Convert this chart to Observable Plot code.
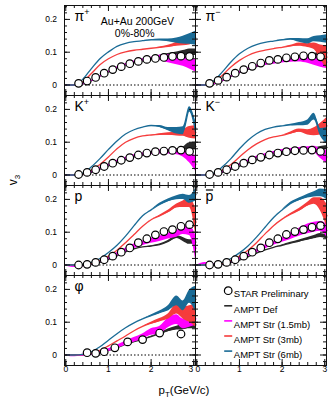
<!DOCTYPE html>
<html><head><meta charset="utf-8">
<script src="https://cdn.jsdelivr.net/npm/d3@7"></script>
<script src="https://cdn.jsdelivr.net/npm/@observablehq/plot@0.6"></script>
<style>body{margin:0;background:#fff;} #chart{width:332px;height:406px;}</style>
</head><body><div id="chart"></div>
<script>
// ---------- data ----------
const pT = [0,0.2,0.4,0.6,0.8,1.0,1.2,1.4,1.6,1.8,2.0,2.2,2.4,2.6,2.75,2.9,3.05];
const starPt = [0.3,0.5,0.7,0.9,1.1,1.3,1.5,1.7,1.9,2.1,2.3,2.5,2.7,2.9];
const phiStarPt = [0.5,0.7,0.9,1.15,1.45,1.8,2.2,2.7];

const pipStar = [0.005,0.012,0.023,0.036,0.047,0.056,0.065,0.072,0.078,0.081,0.084,0.087,0.088,0.087];
const pimStar = [0.005,0.014,0.024,0.036,0.047,0.057,0.067,0.075,0.078,0.083,0.086,0.089,0.088,0.086];
const kpStar  = [0.0015,0.008,0.016,0.026,0.036,0.045,0.053,0.061,0.067,0.071,0.073,0.075,0.076,0.072];
const kmStar  = [0.0015,0.008,0.016,0.026,0.036,0.046,0.054,0.061,0.067,0.071,0.074,0.075,0.076,0.072];
const pStar   = [0,0.002,0.008,0.016,0.027,0.039,0.052,0.068,0.08,0.092,0.102,0.108,0.118,0.123];
const pbarStar= [0,0.002,0.008,0.016,0.027,0.039,0.052,0.068,0.08,0.093,0.102,0.108,0.115,0.12];
const phiStar = [0.007,0.005,0.01,0.022,0.04,0.047,0.067,0.064];

// model bands: centre and half-width on the pT grid
const pipDef  = [0,0,0.003,0.013,0.027,0.04,0.052,0.061,0.068,0.074,0.079,0.088,0.092,0.095,0.097,0.1,0.1];
const pipDefW = [0,0,0,0,0,0,0,0,0,0,0.001,0.003,0.004,0.006,0.008,0.01,0.01];
const pipS15  = [0,0,0.004,0.014,0.028,0.042,0.054,0.063,0.07,0.076,0.08,0.083,0.08,0.077,0.073,0.066,0.058];
const pipS15W = [0,0,0,0,0,0,0.001,0.002,0.003,0.004,0.005,0.008,0.012,0.015,0.016,0.017,0.018];
const pipS3   = [0,0,0.01,0.035,0.062,0.08,0.093,0.101,0.106,0.109,0.112,0.115,0.118,0.124,0.13,0.134,0.138];
const pipS3W  = [0,0,0,0,0,0,0,0,0,0,0,0.001,0.003,0.006,0.01,0.012,0.01];
const pipS6   = [0,0,0.018,0.05,0.08,0.101,0.118,0.127,0.132,0.135,0.138,0.138,0.136,0.135,0.137,0.14,0.143];
const pipS6W  = [0,0,0,0,0,0,0,0,0,0,0,0.002,0.004,0.008,0.012,0.016,0.022];

const pimDef  = [0,0,0.003,0.013,0.026,0.038,0.048,0.056,0.063,0.068,0.073,0.078,0.083,0.088,0.092,0.096,0.098];
const pimDefW = [0,0,0,0,0,0,0,0,0,0,0,0.001,0.002,0.003,0.004,0.005,0.006];
const pimS15  = [0,0,0.004,0.014,0.028,0.04,0.05,0.058,0.064,0.068,0.072,0.075,0.078,0.078,0.075,0.072,0.07];
const pimS15W = [0,0,0,0,0,0.001,0.002,0.003,0.003,0.004,0.005,0.006,0.008,0.012,0.015,0.018,0.02];
const pimS3   = [0,0,0.008,0.03,0.055,0.075,0.09,0.1,0.106,0.111,0.115,0.119,0.123,0.12,0.118,0.1,0.085];
const pimS3W  = [0,0,0,0,0,0,0,0,0,0,0,0.002,0.005,0.006,0.01,0.022,0.035];
const pimS6   = [0,0,0.013,0.04,0.07,0.095,0.112,0.123,0.13,0.134,0.138,0.14,0.136,0.133,0.14,0.14,0.14];
const pimS6W  = [0,0,0,0,0,0,0,0,0,0,0,0.002,0.006,0.008,0.008,0.01,0.013];

const kpDef   = [0,0,0.001,0.008,0.018,0.028,0.038,0.047,0.055,0.061,0.066,0.07,0.073,0.077,0.08,0.088,0.087];
const kpDefW  = [0,0,0,0,0,0,0,0,0,0,0,0.001,0.002,0.003,0.005,0.01,0.01];
const kpS15   = [0,0,0.002,0.01,0.02,0.031,0.042,0.051,0.058,0.063,0.067,0.07,0.071,0.07,0.065,0.055,0.032];
const kpS15W  = [0,0,0,0.001,0.002,0.002,0.003,0.003,0.004,0.004,0.005,0.006,0.007,0.008,0.01,0.018,0.022];
const kpS3    = [0,0,0.003,0.015,0.032,0.055,0.08,0.1,0.112,0.119,0.122,0.124,0.125,0.125,0.128,0.13,0.13];
const kpS3W   = [0,0,0,0,0,0,0,0,0,0,0,0.002,0.004,0.006,0.01,0.018,0.02];
const kpS6    = [0,0,0.006,0.025,0.05,0.078,0.104,0.125,0.138,0.146,0.151,0.148,0.14,0.135,0.135,0.2,0.14];
const kpS6W   = [0,0,0,0,0,0,0,0,0,0,0,0.003,0.005,0.01,0.012,0.008,0.02];

const kmDef   = [0,0,0.001,0.008,0.017,0.027,0.037,0.046,0.053,0.059,0.064,0.068,0.072,0.076,0.079,0.082,0.084];
const kmDefW  = [0,0,0,0,0,0,0,0,0,0,0,0.001,0.002,0.003,0.004,0.005,0.006];
const kmS15   = [0,0,0.002,0.01,0.02,0.032,0.043,0.053,0.061,0.067,0.072,0.075,0.077,0.078,0.078,0.065,0.055];
const kmS15W  = [0,0,0,0.001,0.002,0.002,0.003,0.004,0.004,0.005,0.006,0.006,0.007,0.008,0.01,0.015,0.02];
const kmS3    = [0,0,0.003,0.015,0.032,0.055,0.077,0.095,0.108,0.116,0.121,0.128,0.135,0.13,0.132,0.14,0.15];
const kmS3W   = [0,0,0,0,0,0,0,0,0,0,0,0.003,0.005,0.008,0.012,0.018,0.025];
const kmS6    = [0,0,0.006,0.025,0.05,0.08,0.106,0.126,0.139,0.146,0.15,0.153,0.155,0.16,0.178,0.13,0.12];
const kmS6W   = [0,0,0,0,0,0,0,0,0,0,0,0.002,0.005,0.008,0.01,0.012,0.025];

const pDef    = [0,0,0,0.002,0.008,0.017,0.028,0.04,0.049,0.055,0.058,0.062,0.072,0.085,0.078,0.07,0.07];
const pDefW   = [0,0,0,0,0,0,0,0,0,0,0.001,0.002,0.003,0.004,0.006,0.007,0.007];
const pS15    = [0,-0.004,-0.002,0.004,0.011,0.02,0.032,0.045,0.057,0.066,0.074,0.08,0.088,0.095,0.105,0.105,0.05];
const pS15W   = [0,0.002,0.002,0.002,0.003,0.004,0.005,0.006,0.007,0.007,0.008,0.008,0.009,0.01,0.012,0.015,0.04];
const pS3     = [0,0,0.001,0.005,0.014,0.027,0.045,0.068,0.093,0.118,0.138,0.15,0.163,0.18,0.185,0.19,0.13];
const pS3W    = [0,0,0,0,0,0,0,0,0,0,0,0.002,0.004,0.006,0.01,0.015,0.04];
const pS6     = [0,0,0.002,0.008,0.02,0.038,0.06,0.088,0.12,0.15,0.168,0.185,0.197,0.205,0.208,0.2,0.215];
const pS6W    = [0,0,0,0,0,0,0,0,0,0,0,0.003,0.004,0.006,0.008,0.012,0.02];

const pbarDef  = [0,0,0,0.002,0.007,0.015,0.025,0.036,0.046,0.054,0.06,0.067,0.073,0.08,0.085,0.09,0.085];
const pbarDefW = [0,0,0,0,0,0,0,0,0,0,0.001,0.002,0.003,0.004,0.005,0.006,0.006];
const pbarS15  = [0,0.006,0.002,0.004,0.01,0.019,0.03,0.042,0.055,0.066,0.076,0.088,0.1,0.11,0.115,0.118,0.105];
const pbarS15W = [0,0.002,0.002,0.002,0.003,0.004,0.005,0.005,0.006,0.006,0.007,0.01,0.012,0.015,0.015,0.015,0.02];
const pbarS3   = [0,0,0.001,0.005,0.014,0.027,0.045,0.068,0.095,0.12,0.14,0.155,0.168,0.185,0.195,0.185,0.15];
const pbarS3W  = [0,0,0,0,0,0,0,0,0,0,0,0.002,0.004,0.006,0.01,0.02,0.035];
const pbarS6   = [0,0,0.002,0.008,0.02,0.037,0.058,0.085,0.115,0.145,0.168,0.188,0.2,0.21,0.215,0.22,0.215];
const pbarS6W  = [0,0,0,0,0,0,0,0,0,0,0,0.003,0.004,0.006,0.008,0.012,0.015];

const phiDef   = [0,0,0.001,0.004,0.008,0.014,0.022,0.032,0.041,0.048,0.056,0.065,0.075,0.082,0.085,0.09,0.092];
const phiDefW  = [0,0,0,0,0,0,0,0,0,0,0.001,0.002,0.004,0.006,0.008,0.01,0.012];
const phiS15   = [0,-0.002,0,0.003,0.008,0.015,0.025,0.036,0.046,0.056,0.07,0.075,0.098,0.108,0.095,0.1,0.11];
const phiS15W  = [0,0.002,0.002,0.002,0.003,0.004,0.005,0.006,0.007,0.008,0.01,0.012,0.015,0.015,0.015,0.015,0.02];
const phiS3    = [0,0,0.001,0.005,0.014,0.028,0.043,0.058,0.074,0.087,0.097,0.106,0.117,0.14,0.128,0.125,0.12];
const phiS3W   = [0,0,0,0,0,0,0,0,0,0,0.003,0.005,0.008,0.015,0.018,0.025,0.035];
const phiS6    = [0,0,0.002,0.01,0.025,0.045,0.065,0.083,0.098,0.11,0.12,0.13,0.142,0.165,0.15,0.178,0.17];
const phiS6W   = [0,0,0,0,0,0,0,0,0,0,0.002,0.004,0.008,0.015,0.015,0.02,0.04];

const panelKeys   = ["pip","pim","kp","km","p","pbar","phi"];
const panelLabels = ["π^+","π^−","K^+","K^−","p","p̄","φ"];
const panelCols   = ["L","R","L","R","L","R","L"];
const panelRows   = [0,0,1,1,2,2,3];
const modelNames  = ["AMPT Def","AMPT Str (1.5mb)","AMPT Str (3mb)","AMPT Str (6mb)"];
const modelColors = ["#2a2a2a","#ff00ff","#f53c3c","#1a6b96"];
const legendLabels = ["STAR Preliminary", ...modelNames];
const yMajor = [0, 0.1, 0.2];
const xMajor = [0, 1, 2, 3];

// ---------- tables built from the arrays ----------
const bands = {
  pip:[[pipDef,pipDefW],[pipS15,pipS15W],[pipS3,pipS3W],[pipS6,pipS6W]],
  pim:[[pimDef,pimDefW],[pimS15,pimS15W],[pimS3,pimS3W],[pimS6,pimS6W]],
  kp:[[kpDef,kpDefW],[kpS15,kpS15W],[kpS3,kpS3W],[kpS6,kpS6W]],
  km:[[kmDef,kmDefW],[kmS15,kmS15W],[kmS3,kmS3W],[kmS6,kmS6W]],
  p:[[pDef,pDefW],[pS15,pS15W],[pS3,pS3W],[pS6,pS6W]],
  pbar:[[pbarDef,pbarDefW],[pbarS15,pbarS15W],[pbarS3,pbarS3W],[pbarS6,pbarS6W]],
  phi:[[phiDef,phiDefW],[phiS15,phiS15W],[phiS3,phiS3W],[phiS6,phiS6W]]
};
const stars = {pip:[starPt,pipStar],pim:[starPt,pimStar],kp:[starPt,kpStar],km:[starPt,kmStar],
  p:[starPt,pStar],pbar:[starPt,pbarStar],phi:[phiStarPt,phiStar]};

const panels = panelKeys.map((k,i)=>({key:k,label:panelLabels[i],col:panelCols[i],row:panelRows[i]}));
const modelRows = modelNames.map((m,mi)=>panels.flatMap(P=>pT.map((x,j)=>({
  key:P.key,col:P.col,row:P.row,x,mid:bands[P.key][mi][0][j],hw:bands[P.key][mi][1][j]}))));
const starRows = panels.flatMap(P=>stars[P.key][0].map((x,j)=>({key:P.key,col:P.col,row:P.row,x,v:stars[P.key][1][j]})));
const yLabelRows = [0,1,2,3].flatMap(r=>yMajor.map(v=>({col:"L",row:r,v,t:v===0?"0":String(v)})));
const xLabelRows = ["L","R"].flatMap(c=>xMajor.map(x=>({col:c,row:3,x,t:String(x)})));

const FW = 131.5, FH = 90.5;
const yMinor = d3.range(-2, 25, 2).map(d=>d/100);
const xMinor = d3.range(0, 16, 1).map(d=>d/5);
const font = "'Liberation Sans', Arial, Helvetica, sans-serif";
const fr = {fx:"col", fy:"row"};

const marks = [];
marks.push(Plot.ruleY(panels, {...fr, y:()=>0, stroke:"#000", strokeWidth:1, strokeDasharray:"1.5,2"}));
modelRows.forEach((rows,mi)=>{
  marks.push(Plot.areaY(rows, {...fr, x:"x", y1:d=>d.mid-d.hw, y2:d=>d.mid+d.hw, z:"key", fill:modelColors[mi], curve:"monotone-x"}));
  marks.push(Plot.line(rows, {...fr, x:"x", y:"mid", z:"key", stroke:modelColors[mi], strokeWidth:1.3, curve:"monotone-x"}));
});
marks.push(Plot.dot(starRows, {...fr, x:"x", y:"v", r:3.8, stroke:"#000", strokeWidth:1.2, fill:"#fff"}));
marks.push(Plot.frame({stroke:"#111", strokeWidth:1}));
const tk = {stroke:"#111", strokeWidth:1};
marks.push(Plot.tickY(yMinor,{y:d=>d, insetRight:FW-3.5, ...tk}));
marks.push(Plot.tickY(yMajor,{y:d=>d, insetRight:FW-6.5, ...tk}));
marks.push(Plot.tickY(yMinor,{y:d=>d, insetLeft:FW-3.5, ...tk}));
marks.push(Plot.tickY(yMajor,{y:d=>d, insetLeft:FW-6.5, ...tk}));
marks.push(Plot.tickX(xMinor,{x:d=>d, insetTop:FH-3.5, ...tk}));
marks.push(Plot.tickX(xMajor,{x:d=>d, insetTop:FH-6.5, ...tk}));
marks.push(Plot.tickX(xMinor,{x:d=>d, insetBottom:FH-3.5, ...tk}));
marks.push(Plot.tickX(xMajor,{x:d=>d, insetBottom:FH-6.5, ...tk}));
marks.push(Plot.text(yLabelRows,{...fr, y:"v", text:"t", frameAnchor:"left", dx:-7.5, textAnchor:"end", fontSize:8.5}));
marks.push(Plot.text(xLabelRows.filter(d=>!((d.col==="L"&&d.x===3)||(d.col==="R"&&d.x===0))),{...fr, x:"x", text:"t", frameAnchor:"bottom", dy:6, fontSize:8.5}));
marks.push(Plot.text(xLabelRows.filter(d=>d.col==="L"&&d.x===3),{...fr, x:"x", text:"t", frameAnchor:"bottom", dy:6, dx:-3, fontSize:8.5}));
marks.push(Plot.text(xLabelRows.filter(d=>d.col==="R"&&d.x===0),{...fr, x:"x", text:"t", frameAnchor:"bottom", dy:6, dx:1, fontSize:8.5}));
marks.push(Plot.text(panels,{...fr, text:"label", frameAnchor:"top-left", dx:10, dy:15, lineAnchor:"bottom", textAnchor:"start", fontSize:14}));
// bar over the anti-proton label
const bar7 = {draw(ctx){ ctx.moveTo(-3.6,0); ctx.lineTo(3.6,0); }};
marks.push(Plot.dot(panels.filter(d=>d.key==="pbar"),{...fr, frameAnchor:"top-left", dx:14, dy:4.5, symbol:bar7, stroke:"#000", strokeWidth:1.2}));
marks.push(Plot.text([{col:"L",row:0}],{...fr, text:()=>"Au+Au 200GeV", frameAnchor:"top-left", dx:36.3, dy:12, textAnchor:"start", fontSize:10.5}));
marks.push(Plot.text([{col:"L",row:0}],{...fr, text:()=>"0%-80%", frameAnchor:"top-left", dx:50.3, dy:23.8, textAnchor:"start", fontSize:10.5}));
const dash = {draw(ctx){ ctx.moveTo(-4,0); ctx.lineTo(4,0); }};
legendLabels.forEach((lab,i)=>{
  const cell = [{col:"R",row:3}];
  const dy = 15.2 + 15.1*i;
  if (i===0) marks.push(Plot.dot(cell,{...fr, frameAnchor:"top-left", dx:32.7, dy, r:3.8, stroke:"#000", strokeWidth:1.2, fill:"#fff"}));
  else marks.push(Plot.dot(cell,{...fr, frameAnchor:"top-left", dx:32.7, dy, symbol:dash, stroke:modelColors[i-1], strokeWidth:1.6}));
  marks.push(Plot.text(cell,{...fr, text:()=>lab, frameAnchor:"top-left", dx:38.3, dy, textAnchor:"start", fontSize:9.5}));
});

const svg = Plot.plot({
  width:332, height:406,
  marginLeft:63, marginRight:6, marginTop:4, marginBottom:40,
  style:{fontFamily:font, background:"#fff", color:"#000"},
  x:{domain:[-0.03,3.04], axis:null},
  y:{domain:[-0.032,0.2424], axis:null},
  fx:{domain:["L","R"], padding:0, axis:null},
  fy:{domain:[0,1,2,3], padding:0, axis:null},
  marks
});
document.getElementById("chart").appendChild(svg);

// superscripts for panel labels
d3.select(svg).selectAll("text").each(function(){
  const el = d3.select(this);
  const s = el.text();
  if (!panelLabels.includes(s)) return;
  const [base, sup] = s.split("^");
  el.text(null);
  el.append("tspan").text(base === "p̄" ? "p" : base);
  if (sup) el.append("tspan").attr("font-size",9).attr("dy",-6).text(sup);
});
const S = d3.select(svg);
const yt = S.append("text").attr("transform","translate(17,180) rotate(-90)").attr("text-anchor","middle")
  .attr("font-family",font).attr("font-size",12).attr("fill","#000");
yt.append("tspan").text("v");
yt.append("tspan").attr("font-size",8).attr("dy",3).text("3");
const xt = S.append("text").attr("x",184).attr("y",394).attr("font-family",font).attr("font-size",11.5).attr("fill","#000");
xt.append("tspan").text("p");
xt.append("tspan").attr("font-size",8).attr("dy",3).text("T");
xt.append("tspan").attr("dy",-3).text("(GeV/c)");
</script></body></html>
